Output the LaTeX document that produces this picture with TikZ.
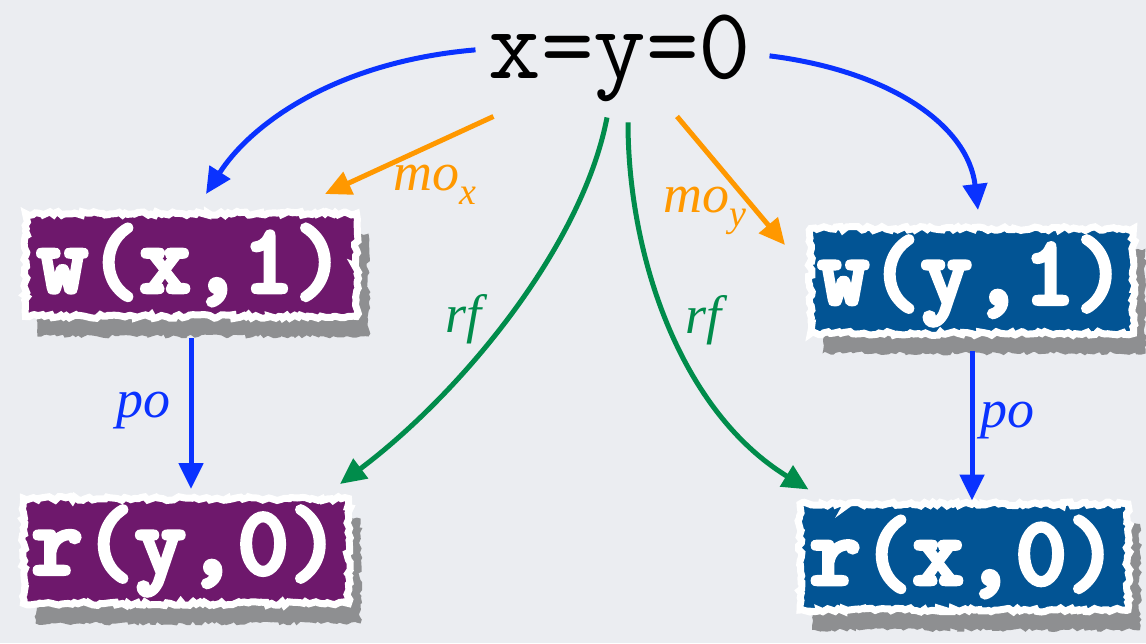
\documentclass[tikz,border=0pt]{standalone}
\usepackage{fontspec}
\setmainfont{Liberation Serif}
\newfontfamily\codeheavy{lmmonolt10-bold}[Extension=.otf, FakeBold=4]
\usetikzlibrary{arrows.meta,decorations.pathmorphing,shadows}
\definecolor{bg}{RGB}{235,237,241}
\definecolor{edgeblue}{RGB}{10,50,255}
\definecolor{edgeorange}{RGB}{255,152,0}
\definecolor{edgegreen}{RGB}{0,140,75}
\definecolor{boxpurple}{RGB}{110,24,108}
\definecolor{boxblue}{RGB}{2,84,148}
\newcommand\lowidx[1]{\raisebox{-14pt}{\fontsize{38}{38}\selectfont #1}}
\tikzset{
  torn/.style={fill=#1, draw=white, line width=7pt, inner sep=0pt,
    text=white, font=\codeheavy\fontsize{98}{98}\selectfont,
    decorate, decoration={random steps,segment length=3.5pt,amplitude=2pt},
    drop shadow={shadow xshift=12pt,shadow yshift=-20pt,fill=black!80,opacity=.5}},
  rel/.style={line width=5pt, -{Triangle[length=26pt,width=24pt]}, draw=#1},
  lbl/.style={text=#1, font=\itshape\fontsize{54}{54}\selectfont, inner sep=0pt, anchor=base west},
}
\begin{document}
\begin{tikzpicture}[x=1pt,y=-1pt]
\path[use as bounding box, fill=bg] (0,0) rectangle (1146,643);

\node[font=\ttfamily\fontsize{102}{102}\selectfont, inner sep=0pt, anchor=base] (init) at (620,78) {x=y=0};

\node[torn=boxpurple, minimum width=331pt, minimum height=103pt] (wx) at (191,265) {w(x,1)};
\node[torn=boxpurple, minimum width=325pt, minimum height=105pt] (ry) at (186,551) {r(y,0)};
\node[torn=boxblue, minimum width=323pt, minimum height=105pt] (wy) at (972,281) {w(y,1)};
\node[torn=boxblue, minimum width=328pt, minimum height=106pt] (rx) at (964,557) {r(x,0)};

\draw[rel=edgeblue] ([shift={(-13,-8)}]init.west) .. controls +(-140,12) and +(45,-70) .. ([shift={(15,-16)}]wx.north);
\draw[rel=edgeblue] ([shift={(18,-2)}]init.east) .. controls +(120,15) and +(-10,-85) .. ([shift={(6,-15)}]wy.north);
\draw[rel=edgeorange] ([shift={(5,15)}]init.south west) -- ([shift={(-35,-16)}]wx.north east);
\draw[rel=edgeorange] ([shift={(57,15)}]init.south) -- ([shift={(-22,20)}]wy.north west);
\draw[rel=edgegreen] ([shift={(-13,16)}]init.south) .. controls +(-25,130) and +(120,-90) .. ([shift={(-12,-11)}]ry.north east);
\draw[rel=edgegreen] ([shift={(8,21)}]init.south) .. controls +(0,130) and +(-130,-80) .. ([shift={(12,-11)}]rx.north west);
\draw[rel=edgeblue, shorten <=18pt, shorten >=6pt] (wx.south) -- (wx.south |- ry.north);
\draw[rel=edgeblue, shorten <=14pt] (wy.south) -- (wy.south |- rx.north);

\node[lbl=edgeorange] (mox) at (393,190) {mo\lowidx{x}};
\node[lbl=edgeorange] (moy) at (663,212) {mo\lowidx{y}};
\node[lbl=edgegreen] (rfl) at (445,332) {rf};
\node[lbl=edgegreen] (rfr) at (685,333) {rf};
\node[lbl=edgeblue] (pol) at (116,417) {po};
\node[lbl=edgeblue] (por) at (980,427) {po};
\end{tikzpicture}
\end{document}
